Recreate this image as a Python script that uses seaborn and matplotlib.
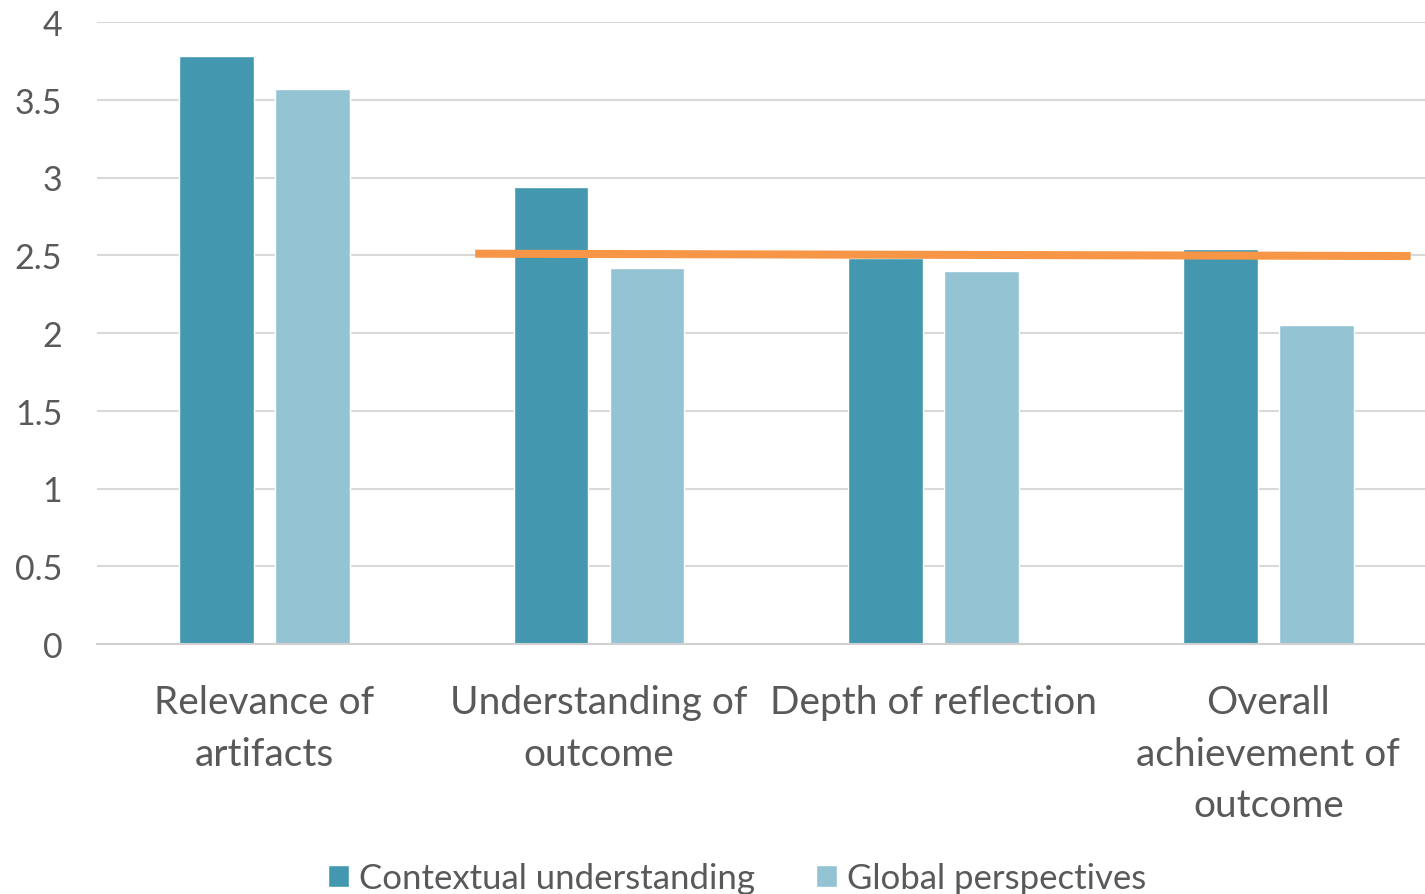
import pandas as pd
import matplotlib
matplotlib.use("Agg")
import matplotlib.pyplot as plt
import seaborn as sb

categories = ["Relevance of\nartifacts", "Understanding of\noutcome",
              "Depth of reflection", "Overall\nachievement of\noutcome"]
contextual = [3.78, 2.94, 2.48, 2.54]
global_persp = [3.57, 2.42, 2.40, 2.05]
series_names = ["Contextual understanding", "Global perspectives"]

# orange benchmark line (category positions, values)
line_x = [0.63, 3.425]
line_y = [2.51, 2.495]

df = pd.DataFrame({
    "category": categories * 2,
    "score": contextual + global_persp,
    "series": [series_names[0]] * 4 + [series_names[1]] * 4,
})

sb.set_style("white")
plt.rcParams["font.family"] = ["Lato", "DejaVu Sans"]
text_color = "#595959"

fig = plt.figure(figsize=(14.25, 8.95), dpi=100)
ax = fig.add_axes([97 / 1425, 1 - 645 / 895, 1328 / 1425, 622 / 895])

sb.barplot(data=df, x="category", y="score", hue="series",
           palette=["#4398b0", "#94c4d4"], width=0.573, gap=0.22,
           saturation=1, ax=ax, legend=True, zorder=2)

ax.plot(line_x, line_y, color="#f79646", linewidth=5.8, zorder=3,
        solid_capstyle="butt")

ax.set_ylim(0, 4)
ax.set_xlim(-0.5, 3.468)
ax.set_yticks([0, 0.5, 1, 1.5, 2, 2.5, 3, 3.5, 4])
ax.set_yticklabels(["0", "0.5", "1", "1.5", "2", "2.5", "3", "3.5", "4"])
ax.yaxis.grid(True, color="#d9d9d9", linewidth=1.5, zorder=0)
ax.set_axisbelow(True)
for s in ["top", "right", "left"]:
    ax.spines[s].set_visible(False)
ax.spines["bottom"].set_color("#d0d0d0")
ax.spines["bottom"].set_linewidth(1.5)
ax.tick_params(axis="both", length=0, colors=text_color)
ax.tick_params(axis="y", pad=25, labelsize=24.5)
ax.tick_params(axis="x", pad=29, labelsize=28)
for lbl in ax.get_xticklabels():
    lbl.set_linespacing(1.53)
ax.set_xlabel("")
ax.set_ylabel("")

handles, labels = ax.get_legend_handles_labels()
ax.legend(handles, labels, loc="lower center", bbox_to_anchor=(737 / 1425, -0.035),
          bbox_transform=fig.transFigure, ncol=2, frameon=False,
          fontsize=25, labelcolor=text_color, handlelength=0.6,
          handleheight=0.6, handletextpad=0.3, columnspacing=1.75)

plt.savefig("out.png", dpi=100)
